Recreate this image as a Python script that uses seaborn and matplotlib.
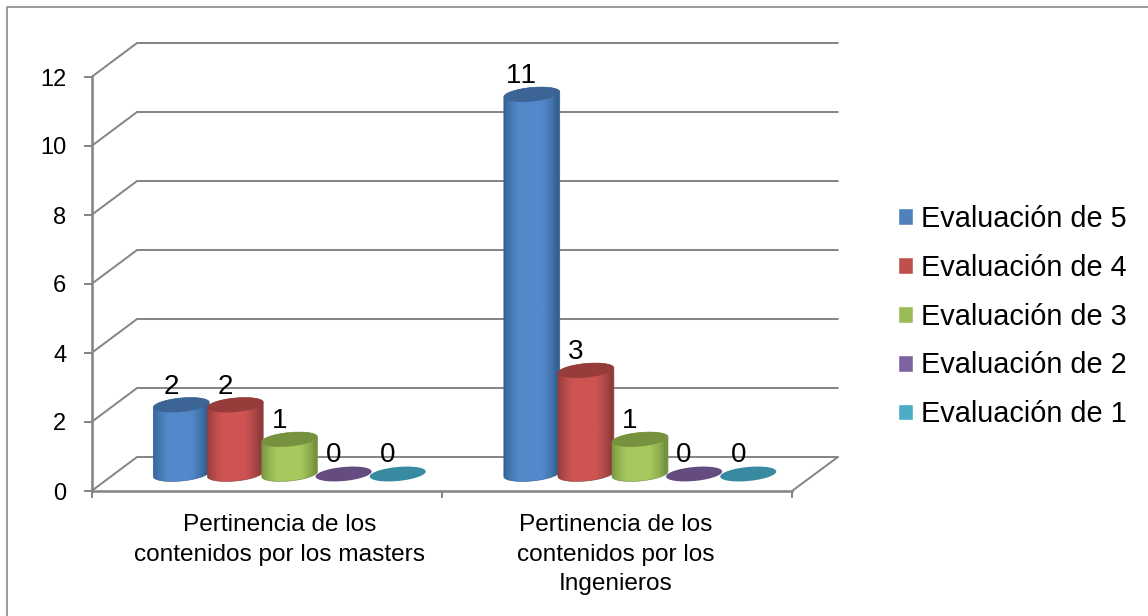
import numpy as np
import pandas as pd
import matplotlib
matplotlib.use("Agg")
import matplotlib.pyplot as plt
from matplotlib.colors import to_rgb
from matplotlib.lines import Line2D
from matplotlib.patches import Polygon
import seaborn as sns

categories = ["Pertinencia de los\ncontenidos por los masters",
              "Pertinencia de los\ncontenidos por los\nIngenieros"]
series = ["Evaluación de 5", "Evaluación de 4", "Evaluación de 3",
          "Evaluación de 2", "Evaluación de 1"]
eval5 = [2, 11]
eval4 = [2, 3]
eval3 = [1, 1]
eval2 = [0, 0]
eval1 = [0, 0]
y_ticks = [0, 2, 4, 6, 8, 10, 12]

legend_colors = ["#4F81BD", "#C0504D", "#9BBB59", "#8064A2", "#4BACC6"]
edge_colors = ["#33608F", "#8F3C3A", "#75933F", "#5F4A7B", "#37849C"]
mid_colors = ["#5389CB", "#CD5452", "#A6C95E", "#644B80", "#378AA0"]
cap_colors = ["#3C6494", "#963C3A", "#76923F", "#644B80", "#378AA0"]
GRID = "#868686"

W, H, DPI = 1148, 616, 100
px = 72 / DPI

sns.set_theme(style="white")
plt.rcParams["font.family"] = ["Liberation Sans", "DejaVu Sans"]
plt.rcParams["text.kerning_factor"] = 6

df = pd.DataFrame({
    "cat": categories * 5,
    "series": [s for s in series for _ in categories],
    "val": eval5 + eval4 + eval3 + eval2 + eval1,
})

fig = plt.figure(figsize=(W / DPI, H / DPI), dpi=DPI, facecolor="white")


def rect(left, right, top, bottom):
    return [left / W, 1 - bottom / H, (right - left) / W, (bottom - top) / H]


# Outer chart frame (left and top only are visible)
fig.add_artist(Line2D([6.5 / W, 6.5 / W, 1], [0, 1 - 6.5 / H, 1 - 6.5 / H],
                      color=GRID, lw=1.6 * px, transform=fig.transFigure))

# Front plane: the value and category axes
front = fig.add_axes(rect(91.5, 792, 77, 491), facecolor="none")
front.set_xlim(0, 2)
front.set_ylim(0, 12)
for name in ("top", "right"):
    front.spines[name].set_visible(False)
for name in ("left", "bottom"):
    front.spines[name].set_color(GRID)
    front.spines[name].set_linewidth(2.6 * px)
front.set_yticks(y_ticks)
front.set_yticklabels([str(v) for v in y_ticks])
front.tick_params(axis="y", length=8 * px, width=2 * px, color=GRID, pad=17 * px,
                  labelsize=17, left=True, labelcolor="black")
front.set_xticks([0, 1, 2])
front.set_xticklabels(["", "", ""])
front.tick_params(axis="x", which="major", length=7 * px, width=2 * px,
                  color=GRID, bottom=True)
front.set_xticks([0.538, 1.497], minor=True)
front.set_xticklabels(categories, minor=True, fontsize=17.6, color="black",
                      linespacing=1.45)
front.tick_params(axis="x", which="minor", length=0, pad=23 * px)

# Back wall and floor lines
BACK_L, BACK_R, LIFT = 0.13, 2.131, 0.985
for v in y_ticks:
    front.plot([0, BACK_L, BACK_R], [v, v + LIFT, v + LIFT], color=GRID,
               lw=2 * px, clip_on=False, solid_joinstyle="miter", zorder=1)
front.plot([2, BACK_R], [0, LIFT], color=GRID, lw=2 * px, clip_on=False, zorder=1)

# Bars: x=0 at px 289.5, x=1 at px 640; y=0 at px 474, 34.5 px per unit
ax = fig.add_axes(rect(114.25, 815.25, 474 - 12 * 34.5, 474 + 34.5), facecolor="none")
sns.barplot(data=df, x="cat", y="val", hue="series", hue_order=series,
            order=categories, palette=legend_colors, width=0.772, gap=0,
            dodge=True, saturation=1, ax=ax, errorbar=None)
ax.set_xlim(-0.5, 1.5)
ax.set_ylim(-1, 12)
ax.set_axis_off()

XU, YU = 350.5, 34.5
SEMI_B, SHEAR, DIAM = 7.0, 0.09, 56.0


def ell(cx, cy, t):
    dx = DIAM / 2 * np.cos(t)
    return cx + dx / XU, cy + (SHEAR * dx + SEMI_B * np.sin(t)) / YU


z = 3
for i, cont in enumerate(ax.containers):
    edge, mid = np.array(to_rgb(edge_colors[i])), np.array(to_rgb(mid_colors[i]))
    stops = np.linspace(0, 1, 128)
    w = np.clip((1 - np.abs(stops - 0.47) / 0.47) / 0.55, 0, 1) ** 0.7
    grad = (edge[None, :] * (1 - w[:, None]) + mid[None, :] * w[:, None])[None, :, :]
    for bar in cont:
        h = bar.get_height()
        cx = bar.get_x() + bar.get_width() / 2
        bar.set_linewidth(0)
        bar.set_zorder(z)
        if h > 0:
            tb = np.linspace(np.pi, 2 * np.pi, 60)
            tt = np.linspace(0, np.pi, 60)
            xb, yb = ell(cx, 0, tb)
            xt, yt = ell(cx, h, tt)
            verts = np.column_stack([np.r_[xb, xt], np.r_[yb, yt]])
            clip = Polygon(verts, closed=True, transform=ax.transData)
            bar.set_clip_path(clip)
            x0, x1 = cx - DIAM / 2 / XU, cx + DIAM / 2 / XU
            im = ax.imshow(grad, extent=[x0, x1, -0.5, h + 0.5], aspect="auto",
                           zorder=z + 0.1, interpolation="bilinear")
            im.set_clip_path(clip)
            # soft outline of the silhouette for antialiasing
            ax.add_patch(Polygon(verts, closed=True, fill=False, lw=0.6 * px,
                                 ec=tuple(edge), zorder=z + 0.15))
        tc = np.linspace(0, 2 * np.pi, 120)
        xc, yc = ell(cx, h, tc)
        ax.add_patch(Polygon(np.column_stack([xc, yc]), closed=True,
                             fc=cap_colors[i], ec="none", zorder=z + 0.2))
        ax.annotate(f"{h:.0f}", xy=(cx, h), xytext=(-10, 18.5),
                    textcoords="offset pixels", ha="center", va="center",
                    fontsize=20, color="black", zorder=30)
        z += 1
ax.set_xlim(-0.5, 1.5)
ax.set_ylim(-1, 12)

FS = 20.8
sns.move_legend(ax, "upper left", bbox_to_anchor=(898 / W, 1 - 205 / H),
                bbox_transform=fig.transFigure, frameon=False, title=None,
                fontsize=FS, borderpad=0, borderaxespad=0,
                handlelength=15 / (FS / px), handleheight=15 / (FS / px),
                handletextpad=8 / (FS / px), labelspacing=0.72,
                labelcolor="black")

fig.savefig("out.png", dpi=DPI, facecolor="white")
